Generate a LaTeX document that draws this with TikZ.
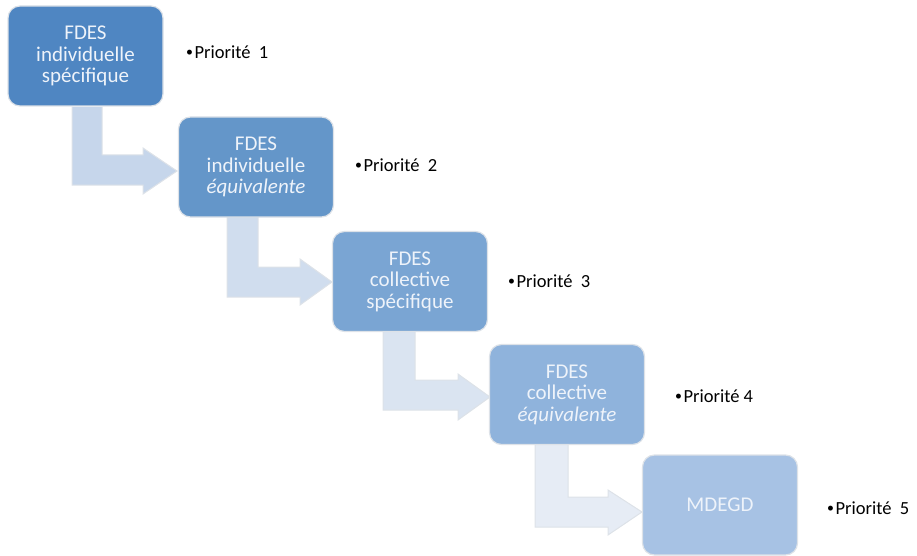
\documentclass[tikz,border=0pt]{standalone}
\usepackage{fontspec}
\setmainfont{Carlito}
\usetikzlibrary{calc}
\definecolor{bA}{HTML}{4F86C2}
\definecolor{bB}{HTML}{6496C9}
\definecolor{bC}{HTML}{7AA5D3}
\definecolor{bD}{HTML}{8FB3DC}
\definecolor{bE}{HTML}{A7C2E4}
\definecolor{aA}{HTML}{C6D6EB}
\definecolor{aB}{HTML}{D0DDEE}
\definecolor{aC}{HTML}{DAE4F1}
\definecolor{aD}{HTML}{E6ECF5}
\definecolor{txt}{HTML}{EEF3FA}
\definecolor{edgec}{HTML}{DDE2E8}
\tikzset{
  stepbox/.style={rectangle, rounded corners=12pt, draw=edgec, line width=1.2pt,
    minimum width=155pt, minimum height=100pt, text=txt, align=center,
    font=\fontsize{21}{21.5}\selectfont, inner sep=0pt},
  bent/.style={draw=edgec, line width=1pt},
  prio/.style={anchor=west, font=\fontsize{18.5}{20}\selectfont, inner sep=0pt, text=black}
}
\newcommand{\pbul}{\raisebox{0.12em}{\scalebox{0.75}{\textbullet}}\hspace{0.08em}}
\begin{document}
\begin{tikzpicture}[x=1pt,y=-1pt]
\useasboundingbox (0,0) rectangle (917,556);
% arrows
\fill[aA] (72,107) -- (72,185) -- (143,185) -- (143,194) -- (177,171) -- (143,148) -- (143,155) -- (102,155) -- (102,107) -- cycle;
\draw[bent] (72,107) -- (72,185) -- (143,185) -- (143,194) -- (177,171) -- (143,148) -- (143,155) -- (102,155) -- (102,107);
\fill[aB] (227,217) -- (227,297) -- (300,297) -- (300,305) -- (332,282) -- (300,259) -- (300,267) -- (258,267) -- (258,217) -- cycle;
\draw[bent] (227,217) -- (227,297) -- (300,297) -- (300,305) -- (332,282) -- (300,259) -- (300,267) -- (258,267) -- (258,217);
\fill[aC] (383,331) -- (383,410) -- (458,410) -- (458,420) -- (490,397) -- (458,374) -- (458,380) -- (415,380) -- (415,331) -- cycle;
\draw[bent] (383,331) -- (383,410) -- (458,410) -- (458,420) -- (490,397) -- (458,374) -- (458,380) -- (415,380) -- (415,331);
\fill[aD] (535,444) -- (535,527) -- (608,527) -- (608,535) -- (642,512) -- (608,490) -- (608,497) -- (568,497) -- (568,444) -- cycle;
\draw[bent] (535,444) -- (535,527) -- (608,527) -- (608,535) -- (642,512) -- (608,490) -- (608,497) -- (568,497) -- (568,444);
% boxes
\node[stepbox, fill=bA] (b1) at (85.5,56) {FDES\\individuelle\\spécifique};
\node[stepbox, fill=bB] (b2) at (256,167) {FDES\\individuelle\\\textit{équivalente}};
\node[stepbox, fill=bC] (b3) at (410,281.5) {FDES\\collective\\spécifique};
\node[stepbox, fill=bD] (b4) at (567,394.5) {FDES\\collective\\\textit{équivalente}};
\node[stepbox, fill=bE] (b5) at (720,505) {MDEGD};
% labels
\node[prio] (p1) at (186,52) {\pbul Priorité\hspace{0.45em}1};
\node[prio] (p2) at (355,165) {\pbul Priorité\hspace{0.45em}2};
\node[prio] (p3) at (508,281) {\pbul Priorité\hspace{0.45em}3};
\node[prio] (p4) at (675,396) {\pbul Priorité 4};
\node[prio] (p5) at (827,508) {\pbul Priorité\hspace{0.45em}5};
\end{tikzpicture}
\end{document}
